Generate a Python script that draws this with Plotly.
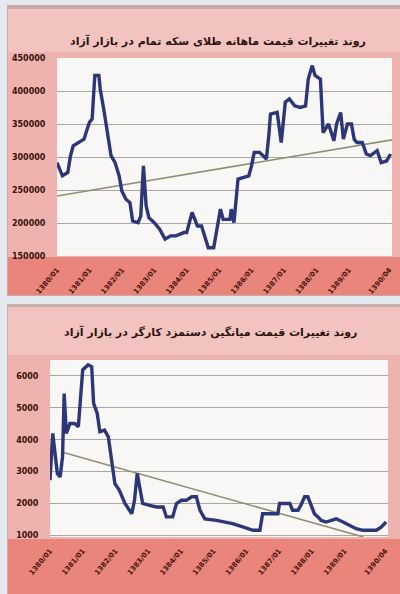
import plotly.graph_objects as go

# ---------------- data ----------------
top_title = "روند تغییرات قیمت ماهانه طلای سکه تمام در بازار آزاد"
bot_title = "روند تغییرات قیمت میانگین دستمزد کارگر در بازار آزاد"

x_tick_vals = [0, 12, 24, 36, 48, 60, 72, 84, 96, 108, 123]
x_tick_text = ["1380/01", "1381/01", "1382/01", "1383/01", "1384/01", "1385/01",
               "1386/01", "1387/01", "1388/01", "1389/01", "1390/04"]

top_y_ticks = [150000, 200000, 250000, 300000, 350000, 400000, 450000]
bot_y_ticks = [1000, 2000, 3000, 4000, 5000, 6000]

top_month = [0, 2, 4, 5, 6, 8, 10, 11, 12, 13, 14, 15.5, 16, 17.5, 19, 20, 21.5, 23, 24, 25.5,
             27, 28, 30, 31, 32, 33, 34, 36, 38, 40, 42, 44, 47, 48, 50, 52, 53.5, 55, 56, 58,
             59, 60.5, 61.5, 64, 64.5, 65.5, 67, 69, 71, 72, 73, 75, 76.5, 77.5, 78.5, 79, 81.5,
             83, 84.5, 86, 88, 90, 92, 93, 94.5, 95.5, 97.5, 98.5, 100.5, 102.5, 103.5, 105, 106,
             107.5, 109, 110, 111, 113, 114.5, 116, 118.5, 120, 122, 123.5]
top_price = [291500, 271500, 276500, 302000, 317000, 322000, 327000, 340000, 352500, 357500,
             423500, 423500, 403000, 367500, 332000, 302000, 291500, 271500, 248500, 236000,
             231000, 203000, 200500, 210500, 286500, 226000, 208000, 200500, 190500, 175500,
             180500, 180500, 185500, 185500, 216000, 195500, 195500, 178000, 162500, 162500,
             185500, 221000, 205500, 205500, 221000, 200500, 266500, 269000, 271500, 286500,
             307000, 307000, 302000, 297000, 337000, 365000, 367500, 322000, 383000, 388000,
             377500, 375000, 377500, 418000, 438500, 423500, 418000, 337000, 350000, 324500,
             350000, 367500, 327000, 350000, 350000, 327000, 322000, 322000, 304500, 302000,
             309500, 291500, 294000, 304500]
top_trend_month = [0, 124]
top_trend_price = [241000, 326000]

bot_month = [0, 1, 2, 2.7, 3.7, 4.6, 5.2, 6, 7.3, 9, 10.4, 12, 14, 15.3, 16, 17.3, 18.3, 20,
             21.4, 22.6, 23.8, 25.4, 27.5, 30, 31, 32, 33, 34, 36.6, 39, 41.5, 42.7, 45, 46.4,
             48.2, 50, 52, 53.7, 55, 56.8, 61, 67, 71, 74.5, 77, 78, 79.4, 81.8, 83.6, 84.2,
             86, 88, 89, 91, 92, 93.4, 94.6, 96, 97, 98.3, 99.5, 101.3, 103, 105, 107.5, 110,
             112.3, 114.8, 117.2, 119.7, 121.5, 123.3]
bot_wage = [2730, 4200, 3460, 2940, 2830, 3460, 5450, 4200, 4510, 4510, 4410, 6190, 6350,
            6290, 5140, 4830, 4250, 4300, 4090, 3250, 2620, 2420, 2000, 1680, 2100, 2940,
            2520, 2000, 1940, 1890, 1890, 1580, 1580, 2000, 2100, 2100, 2210, 2210, 1790,
            1520, 1470, 1370, 1260, 1160, 1160, 1680, 1680, 1680, 1680, 2000, 2000, 2000,
            1790, 1790, 1940, 2210, 2210, 1890, 1680, 1580, 1470, 1420, 1470, 1520, 1420,
            1310, 1210, 1160, 1160, 1160, 1260, 1420]
bot_trend_month = [4, 115]
bot_trend_wage = [3620, 950]

# ---------------- styling ----------------
W, H = 400, 594
def py(px):
    return 1 - px / H
def pxx(px):
    return px / W

line_col = "#2b3778"
trend_col = "#8f8f74"
tick_font = dict(family="DejaVu Sans", size=7, color="#4a140c")
ylab_font = dict(family="DejaVu Sans", size=8, color="#3a100a")

fig = go.Figure()

fig.add_trace(go.Scatter(x=top_trend_month, y=top_trend_price, mode="lines",
                         line=dict(color=trend_col, width=1.6), xaxis="x", yaxis="y",
                         showlegend=False, hoverinfo="skip"))
fig.add_trace(go.Scatter(x=top_month, y=top_price, mode="lines",
                         line=dict(color=line_col, width=3.4), xaxis="x", yaxis="y",
                         showlegend=False))
fig.add_trace(go.Scatter(x=bot_trend_month, y=bot_trend_wage, mode="lines",
                         line=dict(color=trend_col, width=1.6), xaxis="x2", yaxis="y2",
                         showlegend=False, hoverinfo="skip"))
fig.add_trace(go.Scatter(x=bot_month, y=bot_wage, mode="lines",
                         line=dict(color=line_col, width=3.4), xaxis="x2", yaxis="y2",
                         showlegend=False))

shapes = []
def rect(x0, y0, x1, y1, color):
    shapes.append(dict(type="rect", xref="paper", yref="paper", layer="below",
                       x0=pxx(x0), x1=pxx(x1), y0=py(y1), y1=py(y0),
                       fillcolor=color, line=dict(width=0)))

# top panel
rect(7, 5, 400, 296, "#c9a9a9")
rect(8, 9, 400, 295, "#eeb3ae")
rect(8, 9, 400, 52, "#f2c3bf")
rect(8, 257, 400, 295, "#e9857a")
rect(57, 58, 392, 256, "#f9f7f5")
# bottom panel
rect(7, 304, 400, 594, "#c9b0b0")
rect(8, 307, 400, 594, "#eeb3ae")
rect(8, 307, 400, 355, "#f2c3bf")
rect(8, 539, 400, 594, "#e9857a")
rect(50, 360, 388, 537, "#f9f7f5")

annotations = [
    dict(text="<b>" + top_title + "</b>", x=pxx(218), y=py(32), xref="paper", yref="paper",
         showarrow=False, font=dict(family="DejaVu Sans", size=11, color="#2a1410")),
    dict(text="<b>" + bot_title + "</b>", x=pxx(210), y=py(332), xref="paper", yref="paper",
         showarrow=False, font=dict(family="DejaVu Sans", size=11, color="#2a1410")),
]

common_x = dict(range=[0, 124], tickvals=x_tick_vals,
                ticktext=["<b>%s</b>" % t for t in x_tick_text], tickangle=-50,
                tickfont=tick_font, showgrid=False, zeroline=False, showline=False,
                ticks="outside", ticklen=6, tickcolor="rgba(0,0,0,0)", automargin=False)
common_y = dict(tickfont=ylab_font, gridcolor="#aaa6a6", gridwidth=1, zeroline=False,
                showline=False, ticks="outside", ticklen=9, tickcolor="rgba(0,0,0,0)",
                automargin=False)

fig.update_layout(
    template="none",
    width=W, height=H,
    margin=dict(l=0, r=0, t=0, b=0, pad=0),
    paper_bgcolor="#e3e9ef",
    plot_bgcolor="rgba(0,0,0,0)",
    shapes=shapes,
    annotations=annotations,
    xaxis=dict(domain=[pxx(57), pxx(392)], anchor="y", **common_x),
    yaxis=dict(domain=[py(256), py(58)], range=[150000, 450000], tickvals=top_y_ticks,
               ticktext=["<b>%d</b>" % v for v in top_y_ticks], anchor="x", **common_y),
    xaxis2=dict(domain=[pxx(50), pxx(388)], anchor="y2", **common_x),
    yaxis2=dict(domain=[py(537), py(360)], range=[950, 6500], tickvals=bot_y_ticks,
                ticktext=["<b>%d</b>" % v for v in bot_y_ticks], anchor="x2", **common_y),
)

fig.write_html("out.html", config={"displayModeBar": False},
               post_script="document.body.style.margin='0';document.body.style.overflow='hidden';")
